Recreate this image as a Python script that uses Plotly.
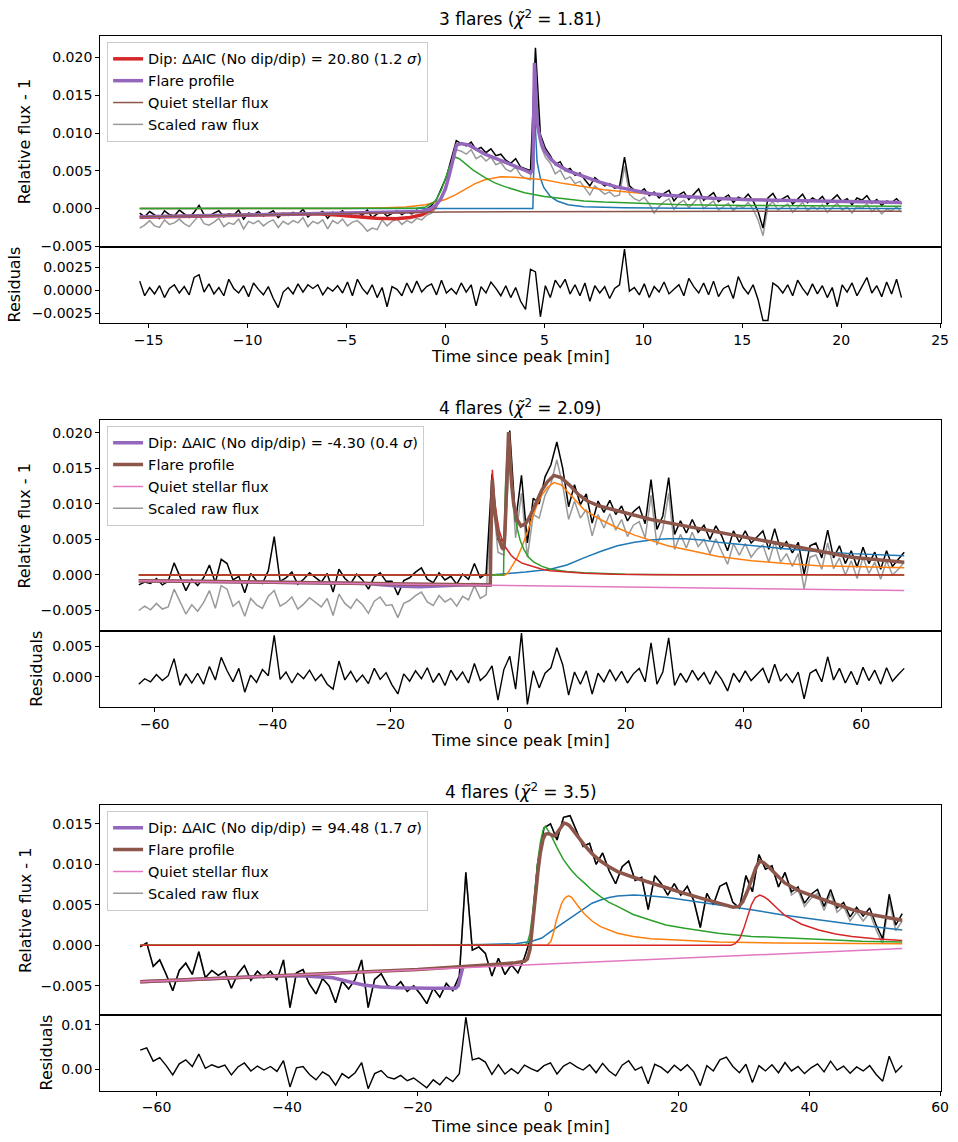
import numpy as np
import plotly.graph_objects as go

W, H = 958, 1142
SCALE = 1e-4          # all flux values below are in units of 1e-4
FONT = "DejaVu Sans"
C0, C1, C2, C3, C4, C5, C6 = "#1f77b4", "#ff7f0e", "#2ca02c", "#d62728", "#9467bd", "#8c564b", "#e377c2"
RAW = "rgba(128,128,128,0.8)"

# ====================== PANEL 1 ======================
p1_title = "3 flares (<i>χ̃</i><sup>2</sup> = 1.81)"
p1_dip_label = "Dip: ΔAIC (No dip/dip) = 20.80 (1.2 <i>σ</i>)"
p1_t_start, p1_t_end = -15.45, 23.05
p1_black = [
    -6, -11, -4, -9, -13, -3, -8, -10, -2, -7,
    -12, -5, 4, -8, -10, -6, -3, -11, -7, -9,
    -2, -14, -6, -8, -4, -10, -7, -3, -12, -6,
    -9, -5, -8, -1, -11, -6, -7, -4, -13, -5,
    -8, -3, -10, -6, -5, -9, -2, -12, -7, -4,
    -10, -6, -3, -8, -4, -7, -2, -5, 0, 4,
    12, 26, 42, 66, 90, 86, 83, 88, 78, 81,
    74, 79, 70, 72, 64, 60, 66, 55, 52, 50,
    213, 98, 80, 70, 58, 62, 50, 53, 44, 47,
    38, 30, 41, 35, 30, 33, 27, 29, 68, 30,
    24, 21, 26, 17, 22, 14, 20, 24, 10, 18,
    22, 12, 19, 26, 11, 16, 21, 9, 14, 18,
    8, 15, 12, 19, 10, -4, -26, 14, 20, 9,
    13, 17, 6, 12, 19, 8, 14, 10, 16, 6,
    12, 18, 9, 13, 5, 14, 11, 17, 7, 12,
    4, 10, 8, 13, 6]
p1_gray = [
    -26, -22, -16, -23, -25, -15, -21, -19, -14, -20,
    -24, -17, -9, -20, -22, -18, -13, -24, -19, -21,
    -14, -27, -17, -20, -16, -23, -18, -15, -25, -17,
    -21, -16, -19, -12, -24, -17, -20, -15, -27, -16,
    -20, -14, -23, -18, -16, -22, -30, -26, -28, -15,
    -23, -17, -14, -21, -16, -19, -13, -15, -9, -6,
    2, 16, 32, 55, 78, 76, 72, 78, 66, 70,
    63, 68, 58, 61, 52, 49, 55, 44, 40, 38,
    185, 84, 68, 60, 46, 51, 39, 42, 33, 36,
    27, 18, 30, 24, 19, 22, 16, 18, 56, 19,
    13, 10, 15, 6, -6, 3, 9, 13, -1, 7,
    11, 1, 8, 15, 0, 5, 10, -2, 3, 7,
    -3, 4, 1, 8, -1, -15, -36, 3, 9, -2,
    2, 6, -5, 1, 8, -3, 3, -1, 5, -5,
    1, 7, -2, 2, -6, 3, 0, 6, -4, 1,
    -7, -1, -3, 2, -5]
p1_resid = [
    10, -6, 3, -4, 5, -8, 2, 6, -3, 4,
    -5, 14, 17, -2, 7, -4, 3, -6, 12, 2,
    -3, 5, -7, 8, 1, -5, 4, -9, -19, -2,
    3, -4, 7, -2, 6, 2, 6, -5, 3, -1,
    5, -3, 9, -6, 12, 2, -4, 6, -8, 3,
    -18, 4, 1, -6, 8, -3, 10, -2, 4, 7,
    -5, 11, -3, 2, -4, 8, -2, 6, -17, 4,
    -3, 9, 2, -6, 5, -8, 3, -12, -21, 23,
    20, -29, 5, -8, 11, 3, 12, -4, 6, -6,
    8, -12, 5, -3, 4, -9, 2, 6, 45, -1,
    3, -5, 7, -8, 4, -2, 9, -4, 1, 6,
    -6, 13, 4, -3, 8, -5, 10, -7, 2, 5,
    -9, 15, 3, -4, 6, -10, -33, -33, 8, 4,
    -3, 6, -6, 11, 2, -5, 7, -4, 5, -8,
    3, -18, 6, -2, 8, -6, 4, 14, -3, 5,
    -7, 9, -4, 12, -8]
p1_blue_t = [-15.45, 4.42, 4.47, 4.5, 4.55, 4.63, 4.8, 4.97, 5.3, 5.65, 6.2, 7.0, 9.0, 12.0, 23.05]
p1_blue = [0, 0, 60, 140, 105, 62, 40, 28, 16, 10, 5, 2.5, 1, 0.3, 0]
p1_orange_t = [-15.45, -5, -3, -2, -1, 0, 0.5, 1, 1.5, 2, 2.5, 2.8, 3.5, 4.3, 5, 6, 7, 8, 10, 12, 14, 17, 20, 23.05]
p1_orange = [0, 0, 1, 2, 5, 12, 18, 26, 33, 38, 41, 42, 41.5, 40, 38, 33, 29, 25, 20, 16, 13.5, 11, 9, 7.5]
p1_green_t = [-15.45, -2, -1.5, -1, -0.5, -0.2, 0, 0.2, 0.4, 0.5, 0.7, 1, 1.4, 2, 2.5, 3, 4, 5, 6, 7, 8, 10, 12, 15, 19, 23.05]
p1_green = [0, 0, 0.5, 2, 10, 25, 40, 55, 65, 68, 66, 60, 51, 41, 34, 29, 21, 16, 12.5, 10, 8.5, 6.5, 5, 4, 3.3, 3]
p1_dip_t = [-15.45, -6.5, -5.5, -4.5, -3.5, -2.5, -1.8, -1.2, -0.8, -0.5]
p1_dip = [-11.5, -7, -8.5, -11, -13, -13.5, -12, -8.5, -3, 3]
p1_flare_t = [-15.45, -10, -5, -2, -1.2, -0.8, -0.5, -0.25, 0, 0.2, 0.4, 0.56, 0.8, 1.2, 2, 3, 4, 4.3, 4.42,
              4.5, 4.55, 4.63, 4.8, 4.97, 5.3, 5.65, 6.2, 7, 7.8, 8.6, 9.5, 10.3, 11.2, 12.2, 13.5, 15.4, 18.8, 23.05]
p1_flare = [-11, -8.5, -6.5, -5.5, -4, -1, 4, 12, 26, 45, 68, 84, 86, 84, 72, 62, 51, 47, 52,
            193, 160, 113, 91, 78, 66, 58, 50, 42, 35, 29, 24, 20, 17.5, 15.5, 13.5, 11.5, 9.5, 8]
p1_quiet_t = [-15.45, -10, -5, 0, 10, 23.05]
p1_quiet = [-11, -8.5, -6, -4.5, -4, -3.5]
p1_xrange = [-17.45, 25.05]
p1_main_range = [-0.00504, 0.0228]
p1_res_range = [-0.00355, 0.00478]
p1_main_tickvals = [-0.005, 0.0, 0.005, 0.010, 0.015, 0.020]
p1_main_ticktext = ["−0.005", "0.000", "0.005", "0.010", "0.015", "0.020"]
p1_res_tickvals = [-0.0025, 0.0, 0.0025]
p1_res_ticktext = ["−0.0025", "0.0000", "0.0025"]
p1_x_tickvals = [-15, -10, -5, 0, 5, 10, 15, 20, 25]
p1_x_ticktext = ["−15", "−10", "−5", "0", "5", "10", "15", "20", "25"]

# ====================== PANEL 2 ======================
p2_title = "4 flares (<i>χ̃</i><sup>2</sup> = 2.09)"
p2_dip_label = "Dip: ΔAIC (No dip/dip) = -4.30 (0.4 <i>σ</i>)"
p2_t_start, p2_t_end = -62.7, 67.3
p2_black = [
    -14, -10, -12, -5, -14, -9, 17, -3, -22, -6,
    -15, -4, 14, -11, 22, 16, -7, -2, -25, 2,
    -8, -12, 6, 54, -9, -4, 4, -13, -6, 3,
    -3, -10, 2, -24, 8, -5, -12, 1, -7, -20,
    -3, 3, -9, -9, -28, -8, -4, 4, 10, -6,
    -11, 3, -7, -2, -13, 1, -6, 16, -4, 2,
    142, 50, 48, 203, 75, 140, 45, 108, 100, 138,
    155, 187, 150, 96, 127, 99, 114, 73, 104, 88,
    105, 85, 97, 76, 89, 96, 72, 134, 64, 83,
    137, 57, 76, 59, 78, 60, 70, 50, 69, 55,
    34, 62, 46, 62, 45, 53, 62, 36, 65, 36,
    47, 31, 46, 1, 41, 45, 24, 63, 24, 41,
    16, 34, 11, 39, 16, 32, 8, 34, 12, 22,
    32]
p2_gray = [
    -50, -44, -49, -40, -48, -45, -20, -38, -55, -42,
    -51, -39, -22, -47, -15, -20, -44, -37, -58, -33,
    -42, -47, -30, -22, -44, -39, -31, -48, -41, -32,
    -38, -45, -33, -57, -27, -40, -47, -34, -42, -54,
    -37, -31, -43, -42, -60, -40, -36, -29, -24, -38,
    -43, -29, -38, -33, -44, -30, -35, -15, -33, -28,
    122, 32, 28, 170, 52, 115, 25, 85, 80, 112,
    128, 162, 126, 78, 104, 80, 92, 55, 85, 66,
    86, 63, 78, 54, 70, 75, 52, 112, 42, 64,
    115, 36, 57, 38, 60, 40, 50, 30, 51, 34,
    15, 44, 28, 44, 25, 36, 42, 18, 47, 18,
    30, 12, 30, -20, 25, 28, 8, 45, 9, 24,
    0, 20, -5, 25, 2, 18, -6, 20, 0, 8,
    18]
p2_resid = [
    -12, -3, -8, 4, -6, 2, 30, -14, 5, -10,
    6, -12, 17, -5, 32, 10, -8, 14, -25, 3,
    -9, 12, 2, 68, -4, 8, -10, 6, -3, 11,
    -6, 4, -12, -20, 26, -5, 9, -8, 3, -11,
    14, -4, 7, -13, -28, 5, -7, 10, -3, 15,
    -9, 6, -14, 11, -5, 8, -10, 22, -6, 3,
    18, -38, 12, 34, -20, 72, -45, 10, -18, 6,
    15, 48, 20, -30, 8, -12, 10, -28, 6, -8,
    12, -6, 9, -10, 5, 14, -8, 56, -12, 8,
    64, -14, 6, -9, 11, -5, 7, -12, 9, -4,
    -23, 6, -8, 10, -6, 4, 14, -10, 21, -7,
    5, -9, 8, -36, 6, 12, -8, 33, -5, 14,
    -10, 9, -13, 16, -6, 11, -12, 15, -7, 4,
    14]
p2_blue_t = [-62.7, -3, 0, 3, 7.2, 10, 12.9, 15.7, 18.6, 21.5, 24.3, 27.1, 30, 33, 35.7, 41.4, 47, 52.7, 58.4, 67.3]
p2_blue = [0, 0, 2, 4, 8, 14, 24, 33, 41, 46, 49, 51, 51, 49, 46, 41, 37, 33, 30, 27]
p2_orange_t = [-62.7, -0.5, 0, 0.5, 1.0, 1.55, 2.4, 3.25, 4.1, 4.95, 5.8, 6.7, 7.8, 9, 10.5, 12.9, 15.7, 18.6, 21.5,
               24.3, 27.1, 30, 35.7, 41.4, 47, 52.7, 60, 67.3]
p2_orange = [0, 0, 3, 10, 16, 24, 40, 60, 80, 99, 113, 123, 130, 127, 114, 92, 78, 66, 56,
             48, 41, 36, 26, 20, 16, 13, 11, 10]
p2_green_t = [-62.7, -0.75, -0.65, -0.4, -0.1, 0.1, 0.35, 0.6, 0.97, 1.55, 2.1, 2.7, 3.5, 4.4, 5.8, 7.2, 10, 12.9, 20, 30, 67.3]
p2_green = [0, 0, 60, 130, 175, 185, 160, 125, 94, 66, 48, 36, 25, 18, 12, 8, 5, 3, 1, 0.3, 0]
p2_red_t = [-62.7, -3.0, -2.9, -2.65, -2.4, -2.2, -1.8, -1.5, -1.0, -0.5, 0, 0.5, 1.0, 1.55, 2.3, 3, 4.4, 5.8, 7.2, 10,
            12.9, 18, 25, 67.3]
p2_red = [0, 0, 60, 148, 118, 100, 78, 63, 50, 40, 34, 28, 24, 21, 17, 15, 11, 8, 6, 4, 2.5, 1, 0.3, 0]
p2_dip_t = [-62.7, -24, -21, -18, -15, -12, -9, -6, -3.0]
p2_dip = [-8, -12, -14, -16, -16.5, -16, -14.5, -13.5, -14]
p2_flare_t = [-62.7, -3.0, -2.9, -2.65, -2.4, -2.2, -1.8, -1.5, -1.0, -0.7, -0.5, -0.3, -0.1, 0.1, 0.35, 0.6, 0.97,
              1.55, 2.2, 3.0, 3.7, 4.4, 5.1, 5.8, 6.7, 7.8, 9, 10.5, 12, 13.5, 15.5, 18.6, 24.3, 30, 35.7, 41.4,
              47, 52.7, 58.4, 67.3]
p2_flare = [-8, -14, 46, 134, 104, 86, 64, 50, 38, 36, 60, 120, 175, 201, 165, 130, 100,
            78, 69, 72, 82, 95, 108, 120, 131, 140, 137, 126, 113, 104, 97, 90, 78, 69, 60, 51,
            42, 33, 25, 18]
p2_quiet_t = [-62.7, 67.3]
p2_quiet = [-8, -22]
p2_xrange = [-69.26, 73.56]
p2_main_range = [-0.00792, 0.02175]
p2_res_range = [-0.00489, 0.00749]
p2_main_tickvals = [-0.005, 0.0, 0.005, 0.010, 0.015, 0.020]
p2_main_ticktext = ["−0.005", "0.000", "0.005", "0.010", "0.015", "0.020"]
p2_res_tickvals = [0.0, 0.005]
p2_res_ticktext = ["0.000", "0.005"]
p2_x_tickvals = [-60, -40, -20, 0, 20, 40, 60]
p2_x_ticktext = ["−60", "−40", "−20", "0", "20", "40", "60"]

# ====================== PANEL 3 ======================
p3_title = "4 flares (<i>χ̃</i><sup>2</sup> = 3.5)"
p3_dip_label = "Dip: ΔAIC (No dip/dip) = 94.48 (1.7 <i>σ</i>)"
p3_t_start, p3_t_end = -62.5, 54.2
p3_black = [
    -2, 3, -26, -18, -36, -56, -31, -22, -36, -8,
    -40, -31, -37, -32, -53, -35, -25, -43, -32, -40,
    -32, -43, -18, -77, -34, -30, -48, -60, -41, -50,
    -71, -44, -54, -42, -18, -77, -42, -35, -50, -53,
    -45, -57, -50, -60, -72, -53, -64, -47, -56, -38,
    90, -6, -2, -10, -38, -16, -36, -24, -34, -15,
    10, 100, 145, 150, 130, 158, 160, 140, 122, 126,
    100, 114, 92, 76, 97, 104, 80, 84, 44, 86,
    76, 62, 76, 62, 73, 55, 22, 64, 50, 73,
    77, 53, 46, 86, 66, 112, 94, 98, 72, 90,
    66, 72, 52, 63, 69, 48, 69, 46, 53, 35,
    47, 36, 46, 25, 8, 63, 25, 39]
p3_gray_tail = [62, 68, 48, 58, 64, 43, 64, 41, 48, 30, 41, 30, 40, 19, 2, 55, 18, 30]
p3_gray = p3_black[:len(p3_black) - len(p3_gray_tail)] + p3_gray_tail  # raw flux overlaps the data until the tail
p3_resid = [
    43, 48, 18, 26, 8, -13, 12, 21, 6, 34,
    2, 10, 4, 9, -13, 5, 14, -4, 7, -2,
    6, -5, 19, -40, 3, 6, -12, -24, -6, -15,
    -36, -10, -20, -8, 15, -44, -10, -3, -18, -22,
    -14, -26, -20, -30, -42, -24, -35, -18, -28, -10,
    117, 21, 25, 16, -12, 10, -11, 1, -10, 9,
    1, -5, 8, 14, -11, 7, 15, 5, -2, 10,
    -8, 13, -4, -15, 9, 19, -2, 5, -33, 11,
    4, -8, 9, -3, 10, -6, -37, 8, -4, 21,
    27, 6, -8, 11, -30, 8, -4, 10, -8, 15,
    -4, 6, -10, 3, 12, -6, 18, -2, 7, -9,
    5, -4, 8, -12, -27, 29, -7, 8]
p3_blue_t = [-62.5, -20, -10, -5, -2.5, -1, 0.35, 1.6, 2.9, 4.2, 5.5, 6.7, 8, 9.3, 10.6, 13.1, 15.7, 18.3, 20.9,
             26, 31.1, 36.2, 41.4, 46.5, 54.2]
p3_blue = [0, 0, 1, 2, 5, 9, 17, 24, 31, 39, 46, 52, 56, 59, 61, 62, 61, 59, 56, 50, 44, 37, 31, 26, 19]
p3_orange_t = [-62.5, -0.2, 0.4, 0.85, 1.2, 1.6, 2.0, 2.4, 2.8, 3.15, 3.6, 4.4, 5.5, 6.7, 8.0, 10.6, 13, 15.7,
               20, 26, 35, 45, 54.2]
p3_orange = [0, 0, 5, 17, 30, 42, 51, 57, 60, 61, 59, 50, 39, 30, 23, 15, 11, 8, 6, 4, 3, 2.5, 2]
p3_green_t = [-62.5, -3.6, -3.2, -2.8, -2.4, -2.0, -1.6, -1.2, -0.8, -0.44, 0.4, 1.37, 2.3, 3.4, 4.4, 5.5, 6.7,
              8, 9.3, 10.6, 13, 15.7, 18, 20.9, 26, 31.1, 36, 41.4, 48, 54.2]
p3_green = [0, 0, 3, 15, 40, 75, 105, 128, 142, 147, 136, 120, 106, 94, 85, 77, 68,
            60, 53, 48, 38, 31, 25, 21, 15, 11, 9, 7, 5, 4]
p3_red_t = [-62.5, 28.0, 28.6, 29.3, 29.9, 30.5, 31.1, 31.7, 32.4, 33.0, 33.7, 35, 36.2, 38.8, 41.4, 44, 46.5, 50, 54.2]
p3_red = [0, 0, 2, 8, 20, 35, 50, 59, 62, 60, 56, 46, 37, 26, 19, 14, 11, 8, 6]
p3_dip_t = [-62.5, -42, -38, -35, -33, -30.5, -28.3, -25.7, -23.2, -18.2, -14.2, -13.8, -13.4, -13.1]
p3_dip = [-45, -37.8, -37.5, -38.5, -40, -45, -49, -51.5, -52.5, -53, -53, -50, -36, -27.5]
p3_flare_t = [-62.5, -20, -10, -5, -3.6, -3.2, -2.8, -2.4, -2.0, -1.6, -1.2, -0.8, -0.44, 0, 0.4, 0.85, 1.2, 1.6,
              2.0, 2.4, 2.8, 3.2, 3.9, 4.7, 5.5, 6.7, 8.0, 9.3, 10.6, 13, 15.7, 18.3, 20.9, 23.5, 26, 28.3, 29.2,
              29.8, 30.5, 31.1, 31.8, 32.4, 33.0, 33.7, 35, 36.2, 38.5, 41.4, 44, 46.5, 50, 54.2]
p3_flare = [-45, -30, -24.5, -21.5, -19.5, -17, -5, 22, 58, 90, 115, 131, 137, 138, 136, 135, 137, 142,
            147, 151, 150, 148, 141, 132, 124, 113, 104, 97, 91, 84, 77, 70, 64, 58, 52, 47, 48,
            54, 67, 81, 96, 104, 102, 97, 86, 77, 67, 58, 51, 44, 37, 31]
p3_quiet_t = [-62.5, 54.2]
p3_quiet = [-45, -4]
p3_xrange = [-68.63, 60.15]
p3_main_range = [-0.00862, 0.01728]
p3_res_range = [-0.00483, 0.01217]
p3_main_tickvals = [-0.005, 0.0, 0.005, 0.010, 0.015]
p3_main_ticktext = ["−0.005", "0.000", "0.005", "0.010", "0.015"]
p3_res_tickvals = [0.0, 0.01]
p3_res_ticktext = ["0.00", "0.01"]
p3_x_tickvals = [-60, -40, -20, 0, 20, 40, 60]
p3_x_ticktext = ["−60", "−40", "−20", "0", "20", "40", "60"]

# pixel layout of the three stacked panels: (top, split, bottom)
panel_px = [(36.7, 248.3, 325.0), (423.3, 635.7, 711.7), (811.0, 1022.3, 1098.3)]
x_px = (101, 949)

fig = go.Figure()


def add(x, y, xa, ya, color, width, name=None, legend="legend", rank=None):
    fig.add_trace(go.Scatter(
        x=x, y=np.asarray(y, dtype=float) * SCALE, mode="lines",
        line=dict(color=color, width=width),
        name=name if name else "", showlegend=name is not None,
        legend=legend, legendrank=rank if rank else 1000,
        xaxis=xa, yaxis=ya, hoverinfo="skip"))


panels = [
    dict(t0=p1_t_start, t1=p1_t_end, black=p1_black, gray=p1_gray, resid=p1_resid,
         comps=[(p1_blue_t, p1_blue, C0), (p1_orange_t, p1_orange, C1), (p1_green_t, p1_green, C2)],
         dip=(p1_dip_t, p1_dip, C3), flare=(p1_flare_t, p1_flare, C4), quiet=(p1_quiet_t, p1_quiet, C5),
         dip_label=p1_dip_label, title=p1_title, xrange=p1_xrange, mrange=p1_main_range, rrange=p1_res_range,
         mtv=p1_main_tickvals, mtt=p1_main_ticktext, rtv=p1_res_tickvals, rtt=p1_res_ticktext,
         xtv=p1_x_tickvals, xtt=p1_x_ticktext, res_label_x=15),
    dict(t0=p2_t_start, t1=p2_t_end, black=p2_black, gray=p2_gray, resid=p2_resid,
         comps=[(p2_blue_t, p2_blue, C0), (p2_orange_t, p2_orange, C1), (p2_green_t, p2_green, C2),
                (p2_red_t, p2_red, C3)],
         dip=(p2_dip_t, p2_dip, C4), flare=(p2_flare_t, p2_flare, C5), quiet=(p2_quiet_t, p2_quiet, C6),
         dip_label=p2_dip_label, title=p2_title, xrange=p2_xrange, mrange=p2_main_range, rrange=p2_res_range,
         mtv=p2_main_tickvals, mtt=p2_main_ticktext, rtv=p2_res_tickvals, rtt=p2_res_ticktext,
         xtv=p2_x_tickvals, xtt=p2_x_ticktext, res_label_x=37),
    dict(t0=p3_t_start, t1=p3_t_end, black=p3_black, gray=p3_gray, resid=p3_resid,
         comps=[(p3_blue_t, p3_blue, C0), (p3_orange_t, p3_orange, C1), (p3_green_t, p3_green, C2),
                (p3_red_t, p3_red, C3)],
         dip=(p3_dip_t, p3_dip, C4), flare=(p3_flare_t, p3_flare, C5), quiet=(p3_quiet_t, p3_quiet, C6),
         dip_label=p3_dip_label, title=p3_title, xrange=p3_xrange, mrange=p3_main_range, rrange=p3_res_range,
         mtv=p3_main_tickvals, mtt=p3_main_ticktext, rtv=p3_res_tickvals, rtt=p3_res_ticktext,
         xtv=p3_x_tickvals, xtt=p3_x_ticktext, res_label_x=47),
]

axis_common = dict(showline=True, linecolor="black", linewidth=1, mirror=True, showgrid=False,
                   zeroline=False, ticks="outside", ticklen=4, tickwidth=1, tickcolor="black",
                   tickfont=dict(family=FONT, size=14, color="black"))
layout = {}
annotations = []
legend_names = ["legend", "legend2", "legend3"]


def fy(p):
    return 1 - p / H


for i, P in enumerate(panels):
    nm, nr = 2 * i + 1, 2 * i + 2
    xm = "x" if nm == 1 else f"x{nm}"
    ym = "y" if nm == 1 else f"y{nm}"
    xr, yr = f"x{nr}", f"y{nr}"
    leg = legend_names[i]
    top, mid, bot = panel_px[i]

    tb = np.linspace(P["t0"], P["t1"], len(P["black"]))
    tg = np.linspace(P["t0"], P["t1"], len(P["gray"]))
    trs = np.linspace(P["t0"], P["t1"], len(P["resid"]))

    add(tg, P["gray"], xm, ym, RAW, 1.5, "Scaled raw flux", leg, 4)
    add(tb, P["black"], xm, ym, "black", 1.5)
    for (ct, cv, cc) in P["comps"]:
        add(ct, cv, xm, ym, cc, 1.5)
    add(P["dip"][0], P["dip"][1], xm, ym, P["dip"][2], 3.5, P["dip_label"], leg, 1)
    add(P["flare"][0], P["flare"][1], xm, ym, P["flare"][2], 3.5, "Flare profile", leg, 2)
    add(P["quiet"][0], P["quiet"][1], xm, ym, P["quiet"][2], 1.5, "Quiet stellar flux", leg, 3)
    add(trs, P["resid"], xr, yr, "black", 1.4)

    dom_x = [x_px[0] / W, x_px[1] / W]
    layout["xaxis" if nm == 1 else f"xaxis{nm}"] = dict(
        axis_common, domain=dom_x, range=P["xrange"], anchor=ym, showticklabels=False, ticks="")
    layout[f"xaxis{nr}"] = dict(axis_common, domain=dom_x, range=P["xrange"], anchor=yr,
                                tickmode="array", tickvals=P["xtv"], ticktext=P["xtt"])
    layout["yaxis" if nm == 1 else f"yaxis{nm}"] = dict(
        axis_common, domain=[fy(mid), fy(top)], range=P["mrange"], anchor=xm,
        tickmode="array", tickvals=P["mtv"], ticktext=P["mtt"])
    layout[f"yaxis{nr}"] = dict(axis_common, domain=[fy(bot), fy(mid)], range=P["rrange"], anchor=xr,
                                tickmode="array", tickvals=P["rtv"], ticktext=P["rtt"])

    layout[leg] = dict(x=108 / W, y=fy(top + 5.5), xanchor="left", yanchor="top",
                       bgcolor="rgba(255,255,255,0.8)", bordercolor="#cccccc", borderwidth=1,
                       font=dict(family=FONT, size=14.5, color="black"), tracegroupgap=0)

    cx = (x_px[0] + x_px[1]) / 2 / W
    title_y = [18, 410, 797][i]
    xlab_y = [359, 746, 1134][i]
    annotations += [
        dict(text=P["title"], x=cx, y=fy(title_y), xref="paper", yref="paper", showarrow=False,
             xanchor="center", yanchor="middle", font=dict(family=FONT, size=17, color="black")),
        dict(text="Time since peak [min]", x=cx, y=fy(xlab_y), xref="paper", yref="paper", showarrow=False,
             xanchor="center", yanchor="middle", font=dict(family=FONT, size=16, color="black")),
        dict(text="Relative flux - 1", x=25 / W, y=fy((top + mid) / 2), xref="paper", yref="paper",
             showarrow=False, textangle=-90, xanchor="center", yanchor="middle",
             font=dict(family=FONT, size=16, color="black")),
        dict(text="Residuals", x=P["res_label_x"] / W, y=fy((mid + bot) / 2), xref="paper", yref="paper",
             showarrow=False, textangle=-90, xanchor="center", yanchor="middle",
             font=dict(family=FONT, size=16, color="black")),
    ]

fig.update_layout(
    width=W, height=H, margin=dict(l=0, r=0, t=0, b=0),
    paper_bgcolor="white", plot_bgcolor="white",
    font=dict(family=FONT, size=14, color="black"),
    annotations=annotations, **layout)

page_css = ("var s=function(e){e.style.margin='0';e.style.padding='0';e.style.overflow='hidden';};"
            "s(document.documentElement);s(document.body);")
fig.write_html("out.html", config={"displayModeBar": False}, post_script=page_css)
